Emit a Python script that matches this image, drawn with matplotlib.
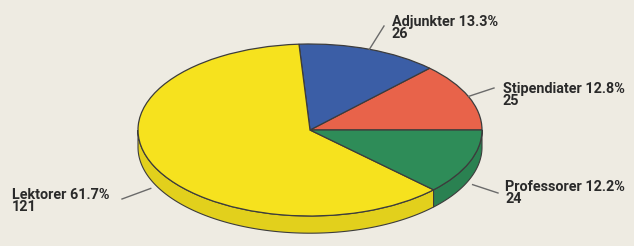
import numpy as np
import matplotlib.pyplot as plt
import matplotlib.colors as mcolors

# data, in the order the wedges go round (counterclockwise from 3 o'clock)
names = ['Stipendiater', 'Adjunkter', 'Lektorer', 'Professorer']
counts = [25, 26, 121, 24]
colors = ['#e8634a', '#3b5ea6', '#f6e21e', '#2e8c58']

# where each label sits (figure pixels from top-left)
label_pos = {'Stipendiater': (503, 82), 'Adjunkter': (392, 15),
             'Lektorer': (12, 188), 'Professorer': (505, 180)}
line_end = {'Stipendiater': (494, 88), 'Adjunkter': (384, 26),
            'Lektorer': (122, 199), 'Professorer': (498, 193)}

W, H = 634, 246
bg = '#eeebe2'
edge = '#3c3c3c'
depth = 0.2

fig = plt.figure(figsize=(W / 100, H / 100), dpi=100, facecolor=bg)
ax = fig.add_axes([0, 0, 1, 1])
ax.set_facecolor(bg)

total = sum(counts)
fracs = np.array(counts) / total
bounds = np.concatenate([[0], np.cumsum(fracs) * 360])

# side band of the tilted pie (front half only)
for i, c in enumerate(colors):
    a0, a1 = max(bounds[i], 180), min(bounds[i + 1], 360)
    if a1 <= a0:
        continue
    t = np.radians(np.linspace(a0, a1, 100))
    xs = np.concatenate([np.cos(t), np.cos(t[::-1])])
    ys = np.concatenate([np.sin(t), np.sin(t[::-1]) - depth])
    side = np.array(mcolors.to_rgb(c)) * 0.92
    ax.fill(xs, ys, color=side, ec=edge, lw=0.8, zorder=1)

wedges, _ = ax.pie(counts, colors=colors, startangle=0, counterclock=True,
                   wedgeprops=dict(ec=edge, lw=0.9), radius=1)
for w in wedges:
    w.set_zorder(2)

# labels with leader lines
to_data = lambda p: ax.transData.inverted().transform(
    fig.transFigure.transform((p[0] / W, 1 - p[1] / H)))

ax.set_aspect('auto')
ax.set_xlim(-310 / 172, (W - 310) / 172)
ax.set_ylim(-(H - 130) / 86, 130 / 86)
ax.axis('off')

for i, name in enumerate(names):
    mid = np.radians((bounds[i] + bounds[i + 1]) / 2)
    x, y = np.cos(mid), np.sin(mid)
    if y < 0:
        y = y - depth * 1.3
        x = x * 1.02
    ex, ey = to_data(line_end[name])
    ax.plot([x, ex], [y, ey], color='#6a6a6a', lw=1, zorder=3)
    tx, ty = label_pos[name]
    pct = counts[i] / total * 100
    fig.text(tx / W, 1 - ty / H, f'{name} {pct:.1f}%\n{counts[i]}',
             ha='left', va='top', fontsize=10.4, fontweight='bold',
             family=['Roboto', 'DejaVu Sans'],
             color='#2a2a2a', linespacing=0.8)

fig.savefig('out.png', dpi=100, facecolor=bg)
